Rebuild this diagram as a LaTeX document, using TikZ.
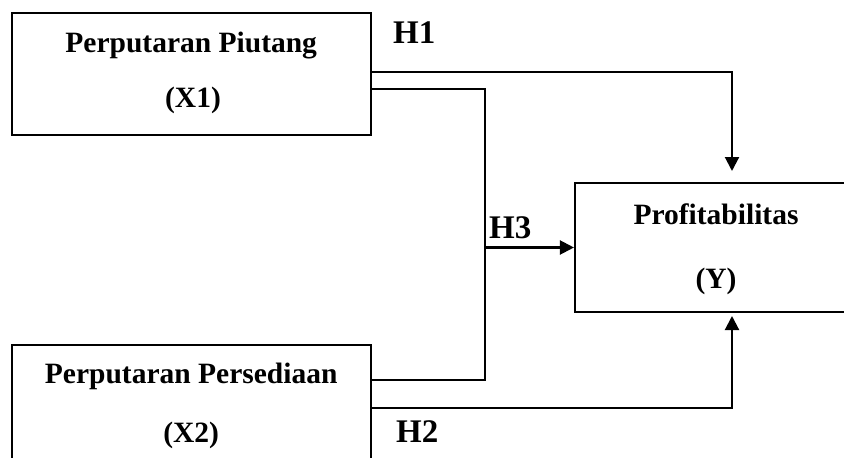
\documentclass[tikz,border=0pt]{standalone}
\usepackage{fontspec}
\setmainfont{Liberation Serif}
\usetikzlibrary{arrows.meta,calc}

\tikzset{
  varbox/.style={draw, line width=2.1pt, rectangle, inner sep=0pt,
                 minimum width=#1, minimum height=122pt},
  boxtext/.style={anchor=base, inner sep=0pt,
                  font=\fontsize{29.5}{35}\selectfont\bfseries},
  hyplabel/.style={anchor=base west, inner sep=0pt,
                   font=\fontsize{33}{38}\selectfont\bfseries},
  link/.style={line width=2.1pt},
  arrowlink/.style={link, -{Triangle[length=14pt,width=14pt]}}
}

\begin{document}
\begin{tikzpicture}[x=1pt, y=-1pt]
  \useasboundingbox (0,0) rectangle (844,458);
  \clip (0,0) rectangle (844,458);
  \fill[white] (0,0) rectangle (844,458);

  % variable boxes
  \node[varbox=359pt] (x1) at (191.2,73.8) {};
  \node[varbox=359pt] (x2) at (191.2,406) {};
  \node[varbox=280pt, minimum height=129pt] (y) at (715,247.5) {};

  % box captions
  \node[boxtext] (x1a) at (191.2,52) {Perputaran Piutang};
  \node[boxtext] (x1b) at (193,107) {(X1)};
  \node[boxtext] (x2a) at (191.2,383) {Perputaran Persediaan};
  \node[boxtext] (x2b) at (191.2,442) {(X2)};
  \node[boxtext] (ya) at (716,224) {Profitabilitas};
  \node[boxtext] (yb) at (716,288) {(Y)};

  % routing points
  \coordinate (h1s) at (x1.east |- 0,72);
  \coordinate (h1c) at (732,72);
  \coordinate (h1e) at (732,171);
  \coordinate (h3a) at (x1.east |- 0,89);
  \coordinate (h3b) at (485,89);
  \coordinate (h3c) at (485,380);
  \coordinate (h3d) at (x2.east |- 0,380);
  \coordinate (h3m) at (485,247.5);
  \coordinate (h2s) at (x2.east |- 0,408);
  \coordinate (h2c) at (732,408);
  \coordinate (h2e) at (732,316);

  % connectors
  \draw[arrowlink] (h1s) -- (h1c) -- (h1e);
  \draw[link] (h3a) -- (h3b) -- (h3c) -- (h3d);
  \draw[arrowlink] (h3m) -- (y.west);
  \draw[arrowlink] (h2s) -- (h2c) -- (h2e);

  % hypothesis labels
  \node[hyplabel] (h1) at (393,43) {H1};
  \node[hyplabel] (h3) at (489,238) {H3};
  \node[hyplabel] (h2) at (396,442) {H2};
\end{tikzpicture}
\end{document}
